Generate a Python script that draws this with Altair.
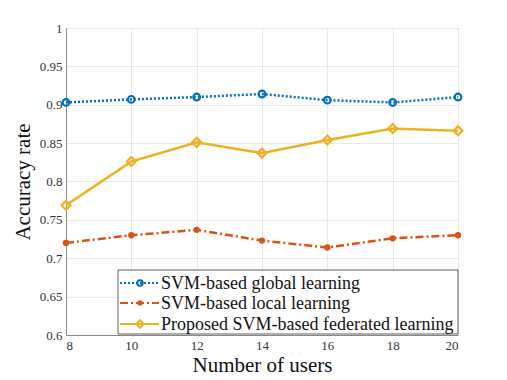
import altair as alt
import pandas as pd

users = [8, 10, 12, 14, 16, 18, 20]
global_acc = [0.903, 0.907, 0.910, 0.914, 0.906, 0.903, 0.910]
local_acc = [0.720, 0.730, 0.737, 0.723, 0.714, 0.726, 0.730]
fed_acc = [0.769, 0.826, 0.851, 0.837, 0.854, 0.869, 0.866]
labels = ["SVM-based global learning", "SVM-based local learning",
          "Proposed SVM-based federated learning"]
colors = ["#0072BD", "#D95319", "#EDB120"]
x_ticks = [8, 10, 12, 14, 16, 18, 20]
y_ticks = [0.6, 0.65, 0.7, 0.75, 0.8, 0.85, 0.9, 0.95, 1.0]

FONT = "Liberation Serif"
W, H = 392, 307

series = [global_acc, local_acc, fed_acc]
dashes = [[2, 2], [8, 3, 2, 3], [1, 0]]
shapes = ["circle", "circle", "diamond"]
filled = [False, True, False]
sizes = [45, 40, 80]

xs = alt.Scale(domain=[8, 20], nice=False)
ys = alt.Scale(domain=[0.6, 1.0], nice=False)


def xax():
    return alt.Axis(values=x_ticks, title="Number of users", grid=True, ticks=False,
                    labelPadding=4, titlePadding=2, labelOverlap=False,
                    labelFont=FONT, titleFont=FONT, labelFontSize=13, titleFontSize=21)


def yax():
    return alt.Axis(values=y_ticks, title="Accuracy rate", grid=True, ticks=False,
                    format="~g", labelPadding=4, titlePadding=6, labelOverlap=False,
                    labelFont=FONT, titleFont=FONT, labelFontSize=13, titleFontSize=21)


layers = []
for i, (vals, lab) in enumerate(zip(series, labels)):
    df = pd.DataFrame({"users": users, "acc": vals, "series": lab})
    base = alt.Chart(df)
    line = base.mark_line(color=colors[i], strokeWidth=2.5, strokeDash=dashes[i]).encode(
        x=alt.X("users:Q", scale=xs, axis=xax()),
        y=alt.Y("acc:Q", scale=ys, axis=yax()),
    )
    pts = base.mark_point(color=colors[i], shape=shapes[i], filled=filled[i],
                          size=sizes[i], strokeWidth=2.2, opacity=1).encode(
        x=alt.X("users:Q", scale=xs, axis=xax()),
        y=alt.Y("acc:Q", scale=ys, axis=yax()),
    )
    layers += [line, pts]

# legend box
box_df = pd.DataFrame({"label": ["box"]})
box = alt.Chart(box_df).mark_rect(fill="white", stroke="#333333", strokeWidth=0.8).encode(
    x=alt.value(52), x2=alt.value(392), y=alt.value(242), y2=alt.value(306))
layers.append(box)

row_y = [255, 275, 296]
for i, lab in enumerate(labels):
    ldf = pd.DataFrame({"label": [lab]})
    lb = alt.Chart(ldf)
    layers.append(lb.mark_rule(color=colors[i], strokeWidth=2.2, strokeDash=dashes[i]).encode(
        x=alt.value(54), x2=alt.value(93), y=alt.value(row_y[i])))
    layers.append(lb.mark_point(color=colors[i], shape=shapes[i], filled=filled[i],
                                size=sizes[i] * 0.7, strokeWidth=2, opacity=1).encode(
        x=alt.value(74), y=alt.value(row_y[i])))
    layers.append(lb.mark_text(align="left", baseline="middle", font=FONT, fontSize=18,
                               color="#111111").encode(
        x=alt.value(95), y=alt.value(row_y[i] + 1), text="label:N"))

chart = alt.layer(*layers).properties(
    width=W, height=H,
    autosize=alt.AutoSizeParams(type="none"),
    padding={"left": 58, "top": 20, "right": 41, "bottom": 44},
).configure_view(stroke="#888888", strokeWidth=1).configure_axis(
    labelColor="#333333", titleColor="#111111", titleFontWeight="normal",
    gridColor="#e8e8e8", gridWidth=1, domainColor="#888888", domainWidth=1,
)

chart.save("out.html", embed_options={"renderer": "svg", "actions": False})
